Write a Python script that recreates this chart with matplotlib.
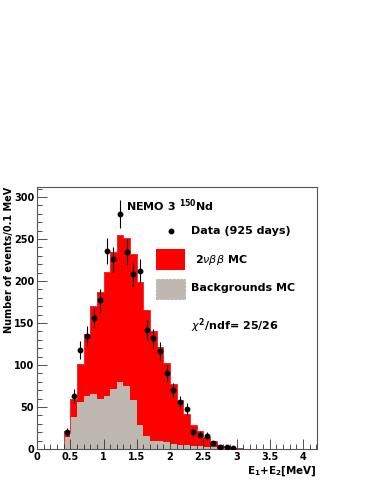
import numpy as np
import matplotlib
matplotlib.use("Agg")
import matplotlib.pyplot as plt
from matplotlib.ticker import MultipleLocator, FuncFormatter
from matplotlib.patches import Rectangle
from matplotlib.lines import Line2D

# ---------------- data ----------------
bin_width = 0.1
x_max = 4.2
# total MC (2nubb + backgrounds), bins from 0.0 to 4.2 MeV in 0.1 MeV steps
mc_total = [0, 0, 0, 0,
            22, 59, 101, 137, 170, 187, 211, 235, 255, 251,
            232, 199, 165, 141, 122, 102, 77, 58, 42, 29,
            21, 14, 9, 5, 3, 1.5, 0.7, 0.3,
            0, 0, 0, 0, 0, 0, 0, 0, 0, 0]
mc_bkg = [0, 0, 0, 0,
          14, 38, 56, 63, 66, 60, 63, 72, 80, 75,
          58, 29, 15, 9, 10, 8.5, 6.5, 5, 5, 4,
          3, 2.5, 2, 1.5, 1.2, 1, 0.8, 0.5,
          0, 0, 0, 0, 0, 0, 0, 0, 0, 0]
# data points, bin centres 0.45 ... 2.95 MeV
data_first_bin = 0.4
data_counts = [20, 63, 118, 135, 156, 177, 236, 226, 280, 235, 208, 212, 142,
               132, 117, 91, 70, 56, 48, 20, 17, 16, 7, 2, 2, 1]

xticks_major = 0.5
yticks_major = 50

# ---------------- figure ----------------
W, H = 376, 487
fig = plt.figure(figsize=(W / 100, H / 100), dpi=100)
ax = fig.add_axes([37 / W, 1 - 449 / H, 280 / W, 262 / H])

edges = np.round(np.arange(len(mc_total) + 1) * bin_width, 3)
red = "#ff0000"
grey = "#bfb8b0"

ax.stairs(mc_total, edges, fill=True, color=red, lw=0)
ax.stairs(mc_bkg, edges, fill=True, color=grey, lw=0)
ax.stairs(mc_total, edges, color="#e83030", lw=0.7)

centres = data_first_bin + bin_width * (np.arange(len(data_counts)) + 0.5)
dc = np.array(data_counts, dtype=float)
ax.errorbar(centres, dc, yerr=np.sqrt(dc), xerr=0.015, fmt="o", ms=3.2,
            color="black", ecolor="black", elinewidth=0.8, capsize=0, zorder=5)

ax.set_xlim(0, 4.21)
ax.set_ylim(0, 312)

ax.xaxis.set_major_locator(MultipleLocator(xticks_major))
ax.xaxis.set_minor_locator(MultipleLocator(bin_width))
ax.yaxis.set_major_locator(MultipleLocator(yticks_major))
ax.yaxis.set_minor_locator(MultipleLocator(10))
fmt = FuncFormatter(lambda v, p: "%g" % v)
ax.xaxis.set_major_formatter(fmt)
ax.yaxis.set_major_formatter(fmt)
ax.tick_params(which="both", direction="in", top=False, right=False, width=0.6,
               colors="#333333", labelcolor="black")
ax.tick_params(which="major", length=7, pad=2)
ax.tick_params(which="minor", length=3.5)
for lab in ax.get_xticklabels() + ax.get_yticklabels():
    lab.set_fontfamily("DejaVu Sans")
    lab.set_fontweight("bold")
    lab.set_fontsize(7)
for s in ax.spines.values():
    s.set_linewidth(0.8)
    s.set_color("#555555")

def fx(px):
    return px / W

def fy(py):
    return 1 - py / H

bold = dict(family="DejaVu Sans", weight="bold")

fig.text(fx(9), fy(187), "Number of events/0.1 MeV", rotation=90, ha="center",
         va="top", fontsize=7, **bold)
fig.text(fx(317), fy(471), r"E$_\mathbf{1}$+E$_\mathbf{2}$[MeV]", ha="right",
         va="center", fontsize=7.5, **bold)

fig.text(fx(126), fy(206), r"NEMO 3 $^\mathbf{150}$Nd", ha="left", va="center",
         fontsize=8, **bold)

# legend
fig.add_artist(Line2D([fx(171)], [fy(231)], marker="o", ms=3.2, color="black",
                      transform=fig.transFigure))
fig.text(fx(191), fy(231), "Data (925 days)", ha="left", va="center",
         fontsize=8, **bold)
fig.add_artist(Rectangle((fx(156), fy(270)), fx(29), 21 / H, facecolor=red,
                         edgecolor="none", transform=fig.transFigure))
fig.text(fx(195), fy(260), r"2$\nu\beta\beta$ MC", ha="left", va="center",
         fontsize=8, **bold)
fig.add_artist(Rectangle((fx(156), fy(299)), fx(29), 20 / H, facecolor=grey,
                         edgecolor="#a8a098", lw=0.5, ls="--",
                         transform=fig.transFigure))
fig.text(fx(191), fy(288), "Backgrounds MC", ha="left", va="center",
         fontsize=8, **bold)
fig.text(fx(191), fy(326), r"$\chi^\mathbf{2}$/ndf= 25/26", ha="left",
         va="center", fontsize=8, **bold)

fig.savefig("out.png", dpi=100)
